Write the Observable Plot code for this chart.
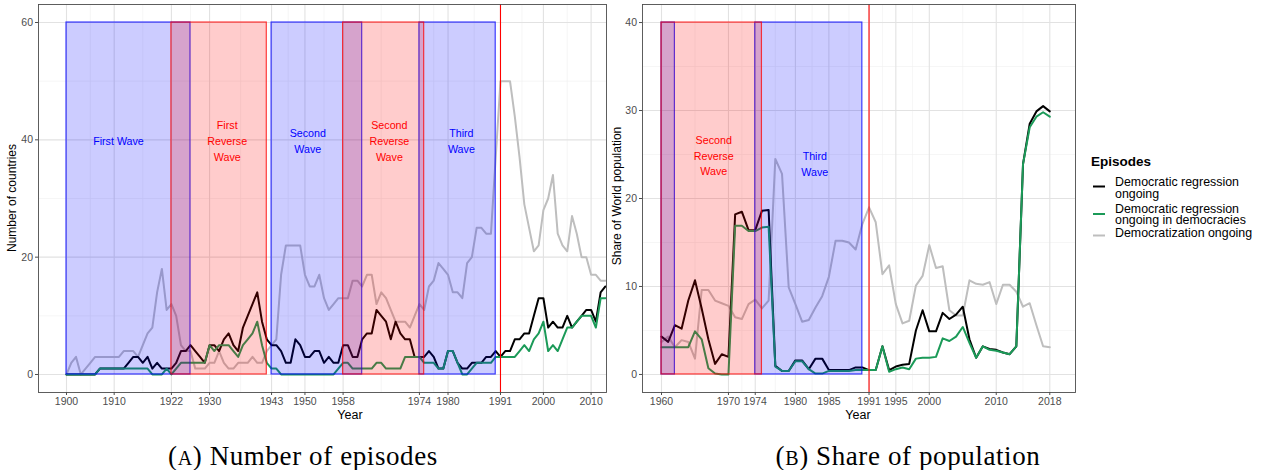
<!DOCTYPE html>
<html>
<head>
<meta charset="utf-8">
<script src="https://cdn.jsdelivr.net/npm/d3@7"></script>
<script src="https://cdn.jsdelivr.net/npm/@observablehq/plot@0.6"></script>
<style>
  html, body { margin: 0; padding: 0; background: white; }
  #root { position: relative; width: 1261px; height: 470px; overflow: hidden; font-family: "Liberation Sans", Arial, sans-serif; }
  #root svg { position: absolute; }
</style>
</head>
<body>
<div id="root"></div>
<script>
// ---------- Panel A: number of countries (yearly, from 1900) ----------
const startA = 1900;
const regressionA = [
  0,0,0,0,0,0,0,1,1,1, 1,1,1,2,3,3,2,3,1,2, 1,1,1,2,4,4,5,4,3,2,
  5,5,4,6,7,5,4,8,10,12, 14,9,6,5,5,4,2,2,6,5, 3,3,4,4,2,3,2,2,5,5,
  3,3,6,7,7,11,10,9,6,9, 7,6,6,3,3,3,4,3,1,1, 4,4,2,1,1,2,2,2,3,3,
  4,3,4,4,6,6,7,7,10,13, 13,8,9,8,8,10,8,9,10,11, 11,9,14,15
];
const regressionDemA = [
  0,0,0,0,0,0,0,1,1,1, 1,1,1,1,1,1,1,1,0,0, 0,1,0,1,2,2,2,2,2,2,
  5,4,5,5,5,4,3,5,6,7, 9,5,2,1,1,0,0,0,0,0, 0,0,0,0,0,0,0,1,2,2,
  1,1,1,1,1,2,2,1,1,1, 1,3,3,3,3,2,2,2,1,1, 4,4,2,0,0,1,2,2,2,2,
  3,3,3,3,3,4,5,4,6,7, 9,4,5,4,6,8,8,9,10,10, 10,8,13,13
];
const democratizationA = [
  0,2,3,0,1,2,3,3,3,3, 3,3,4,4,4,3,5,7,8,14, 18,11,12,10,5,4,4,1,1,1,
  2,2,4,2,1,1,2,2,2,3, 2,2,4,5,6,17,22,22,22,22, 17,15,15,17,13,11,12,13,13,13,
  16,16,15,17,17,12,14,13,11,9, 9,9,8,10,12,11,15,16,19,18, 17,14,14,13,19,20,25,25,24,24,
  37,50,50,50,44,37,29,25,21,22, 28,30,34,24,22,21,27,24,20,20, 17,17,16,16
];
const ticksA = [1900, 1910, 1922, 1930, 1943, 1950, 1958, 1974, 1980, 1991, 2000, 2010];
const yTicksA = [0, 20, 40, 60];
const yMinorA = [10, 30, 50];

const waveNamesA = ["First\nWave", "First\nReverse\nWave", "Second\nWave", "Second\nReverse\nWave", "Third\nWave"];
const waveKindA = ["wave", "reverse", "wave", "reverse", "wave"];
const waveStartA = [1900, 1922, 1943, 1958, 1974];
const waveEndA = [1926, 1942, 1962, 1975, 1990];
const waveLabelA = ["First Wave", "First\nReverse\nWave", "Second\nWave", "Second\nReverse\nWave", "Third\nWave"];
const waveLabelXA = [1910.9, 1933.7, 1950.6, 1967.7, 1982.8];
const waveLabelYA = [40, 40, 40, 40, 40];

// ---------- Panel B: share of world population (yearly, from 1960) ----------
const startB = 1960;
const regressionB = [
  4.3,3.7,5.6,5.2,8.4,10.7,7.5,4.0,1.2,2.3, 2.0,18.2,18.5,16.4,16.4,18.6,18.7,1.0,0.4,0.4,
  1.6,1.6,0.6,1.8,1.8,0.5,0.5,0.5,0.5,0.8, 0.8,0.5,0.5,3.2,0.5,0.9,1.1,1.2,5.0,7.3,
  4.9,4.9,7.0,6.3,6.8,7.7,4.0,1.9,3.2,2.9, 2.8,2.5,2.3,3.2,23.9,28.5,29.9,30.5,29.9
];
const regressionDemB = [
  3.1,3.1,3.1,3.1,3.1,4.9,4.0,0.7,0.1,0.0, 0.0,16.9,16.9,16.3,16.3,16.7,16.8,0.9,0.4,0.4,
  1.5,1.5,0.6,0.1,0.1,0.4,0.4,0.4,0.4,0.5, 0.5,0.5,0.5,3.2,0.3,0.6,0.8,0.6,1.8,1.9,
  1.9,2.0,4.1,3.8,4.3,5.4,3.6,1.9,3.2,2.8, 2.7,2.5,2.3,3.2,23.9,28.1,29.3,29.8,29.3
];
const democratizationB = [
  3.7,4.3,3.1,3.9,3.7,1.8,9.6,9.6,8.4,8.1, 7.8,6.5,6.3,8.0,8.5,7.5,8.4,24.5,22.8,9.9,
  8.0,6.0,6.2,7.6,8.9,11.1,15.2,15.2,15.0,14.2, 17.1,19.0,17.3,11.4,12.4,8.0,5.8,6.1,10.1,11.2,
  14.7,12.1,12.3,7.3,6.7,6.7,10.7,10.3,10.2,10.5, 8.0,10.2,10.2,9.4,7.7,8.1,5.6,3.2,3.1
];
const ticksB = [1960, 1970, 1974, 1980, 1985, 1991, 1995, 2000, 2010, 2018];
const yTicksB = [0, 10, 20, 30, 40];
const yMinorB = [5, 15, 25, 35];

const waveKindB = ["wave", "reverse", "wave"];
const waveStartB = [1960, 1960, 1974];
const waveEndB = [1962, 1975, 1990];
const waveLabelB = ["Second\nReverse\nWave", "Third\nWave"];
const waveLabelXB = [1967.8, 1982.9];
const waveLabelYB = [25, 24];

const breakYear = [1991];

const seriesNames = ["Democratic regression\nongoing", "Democratic regression\nongoing in democracies", "Democratization ongoing"];
const seriesColors = ["#000000", "#1b9a58", "#bebebe"];

// ---------- helpers ----------
const tidy = (start, arr) => arr.map((v, i) => ({year: start + i, value: v}));
const midpoints = (t) => t.slice(1).map((b, i) => (t[i] + b) / 2);
const blue = "#0000ff", red = "#ff0000";

function panel({start, reg, regDem, dem, ticks, yTicks, yMinor, wStart, wEnd, wKind, lText, lX, lY, xDomain, yDomain, yTop, width, marginLeft, marginRight}) {
  const waves = wStart.map((s, i) => ({start: s, end: wEnd[i], kind: wKind[i]}));
  const labels = lText.map((t, i) => ({text: t, x: lX[i], y: lY[i]}));
  const labelColor = lText.map(t => (t.includes("Reverse") ? red : blue));
  return Plot.plot({
    width, height: 430,
    marginLeft, marginRight, marginTop: 4, marginBottom: 38,
    x: {domain: xDomain},
    y: {domain: yDomain},
    style: {background: "transparent", fontFamily: "Liberation Sans, Arial, sans-serif", fontSize: "10.5px", color: "#4d4d4d", overflow: "visible"},
    marks: [
      Plot.ruleX(midpoints(ticks), {stroke: "#f0f0f0", strokeWidth: 0.6}),
      Plot.ruleY(yMinor, {stroke: "#f0f0f0", strokeWidth: 0.6}),
      Plot.ruleX(ticks, {stroke: "#e2e2e2", strokeWidth: 1.1}),
      Plot.ruleY(yTicks, {stroke: "#e2e2e2", strokeWidth: 1.1}),
      Plot.line(tidy(start, dem), {x: "year", y: "value", stroke: seriesColors[2], strokeWidth: 2, clip: true}),
      Plot.line(tidy(start, reg), {x: "year", y: "value", stroke: seriesColors[0], strokeWidth: 2, clip: true}),
      Plot.line(tidy(start, regDem), {x: "year", y: "value", stroke: seriesColors[1], strokeWidth: 2, clip: true}),
      Plot.rect(waves.filter(d => d.kind === "wave"), {x1: "start", x2: "end", y1: 0, y2: yTop, fill: blue, fillOpacity: 0.2, stroke: blue, strokeOpacity: 0.75, strokeWidth: 1.2}),
      Plot.rect(waves.filter(d => d.kind === "reverse"), {x1: "start", x2: "end", y1: 0, y2: yTop, fill: red, fillOpacity: 0.2, stroke: red, strokeOpacity: 0.75, strokeWidth: 1.2}),
      Plot.text(labels, {x: "x", y: "y", text: "text", fill: (d, i) => labelColor[i], fontSize: 10.7, lineHeight: 1.47, lineAnchor: "middle"}),
      Plot.ruleX(breakYear, {stroke: red, strokeWidth: 1.1}),
      Plot.frame({stroke: "#4d4d4d", strokeWidth: 0.9}),
      Plot.axisX({ticks, tickFormat: d => String(d), tickSize: 3, tickPadding: 2, label: null, fontSize: 10.5}),
      Plot.axisY({ticks: yTicks, tickFormat: d => String(d), tickSize: 3, tickPadding: 2.5, label: null, fontSize: 10.5})
    ]
  });
}

const root = document.getElementById("root");

const plotA = panel({
  start: startA, reg: regressionA, regDem: regressionDemA, dem: democratizationA,
  ticks: ticksA, yTicks: yTicksA, yMinor: yMinorA,
  wStart: waveStartA, wEnd: waveEndA, wKind: waveKindA,
  lText: waveLabelA, lX: waveLabelXA, lY: waveLabelYA,
  xDomain: [1894.13, 2013.23], yDomain: [-3.07, 63.07], yTop: 60,
  width: 612, marginLeft: 38, marginRight: 6
});
plotA.style.left = "0px"; plotA.style.top = "0px";
root.appendChild(plotA);

const plotB = panel({
  start: startB, reg: regressionB, regDem: regressionDemB, dem: democratizationB,
  ticks: ticksB, yTicks: yTicksB, yMinor: yMinorB,
  wStart: waveStartB, wEnd: waveEndB, wKind: waveKindB,
  lText: waveLabelB, lX: waveLabelXB, lY: waveLabelYB,
  xDomain: [1957.16, 2021.84], yDomain: [-2.05, 42.05], yTop: 40,
  width: 480, marginLeft: 42, marginRight: 5
});
plotB.style.left = "600px"; plotB.style.top = "0px";
root.appendChild(plotB);

// ---------- overlay: axis titles, legend, captions ----------
const ov = d3.select(root).append("svg")
  .attr("width", 1261).attr("height", 470)
  .style("left", "0px").style("top", "0px")
  .style("pointer-events", "none")
  .attr("font-family", "Liberation Sans, Arial, sans-serif");

ov.append("text").attr("x", 350).attr("y", 419).attr("text-anchor", "middle").attr("font-size", 12.5).attr("fill", "#000").text("Year");
ov.append("text").attr("x", 858).attr("y", 419).attr("text-anchor", "middle").attr("font-size", 12.5).attr("fill", "#000").text("Year");
ov.append("text").attr("transform", "translate(16,198) rotate(-90)").attr("text-anchor", "middle").attr("font-size", 12).attr("fill", "#000").text("Number of countries");
ov.append("text").attr("transform", "translate(621,196) rotate(-90)").attr("text-anchor", "middle").attr("font-size", 12).attr("fill", "#000").text("Share of World population");

// legend
ov.append("text").attr("x", 1091).attr("y", 166).attr("font-size", 13.5).attr("font-weight", "bold").attr("fill", "#000").text("Episodes");
const keyY = [186.5, 214, 235.5];
const textY = [[186, 198.3], [212.7, 224.3], [237.3]];
seriesNames.forEach((name, i) => {
  ov.append("line").attr("x1", 1093).attr("x2", 1105).attr("y1", keyY[i]).attr("y2", keyY[i])
    .attr("stroke", seriesColors[i]).attr("stroke-width", 2);
  name.split("\n").forEach((ln, j) => {
    ov.append("text").attr("x", 1115).attr("y", textY[i][j]).attr("font-size", 12.4).attr("fill", "#000").text(ln);
  });
});

// captions
function caption(x, letter, rest) {
  const t = ov.append("text").attr("x", x).attr("y", 465).attr("text-anchor", "middle")
    .attr("font-family", "Liberation Serif, 'DejaVu Serif', serif").attr("font-size", 27)
    .attr("letter-spacing", 0.6).attr("fill", "#000");
  t.append("tspan").text("(");
  t.append("tspan").attr("font-size", 20).text(letter);
  t.append("tspan").text(") " + rest);
}
caption(303, "A", "Number of episodes");
caption(908, "B", "Share of population");
</script>
</body>
</html>
